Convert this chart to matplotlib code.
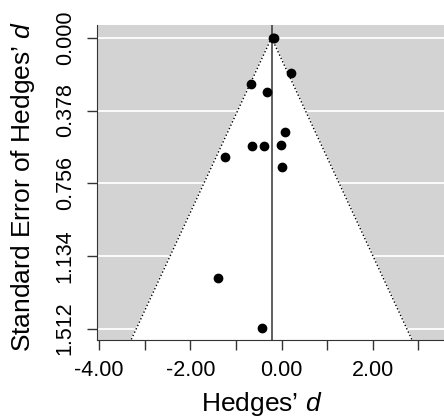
import numpy as np
import matplotlib.pyplot as plt

plt.rcParams['font.family'] = ['Liberation Sans', 'DejaVu Sans']
plt.rcParams['mathtext.fontset'] = 'custom'
plt.rcParams['mathtext.it'] = 'Liberation Sans:italic'
plt.rcParams['mathtext.rm'] = 'Liberation Sans'

# study effects (Hedges' d) and standard errors
effect = [-0.19, -0.17, 0.21, -0.68, -0.31, 0.07, -0.65, -0.39, -0.02, -1.23, 0.01, -1.39, -0.43]
se = [0.000, 0.003, 0.182, 0.238, 0.281, 0.488, 0.562, 0.562, 0.556, 0.618, 0.674, 1.248, 1.510]
pooled = -0.22

y_ticks = [0.000, 0.378, 0.756, 1.134, 1.512]
x_ticks = [-4, -3, -2, -1, 0, 1, 2, 3]
x_labels = ['-4.00', '', '-2.00', '', '0.00', '', '2.00', '']

fig = plt.figure(figsize=(4.44, 4.18), dpi=100)
ax = fig.add_axes([0.219, 0.187, 0.781, 0.753])

xlim = (-4.04, 3.56)
ylim = (1.57, -0.066)
ax.set_xlim(xlim)
ax.set_ylim(ylim)
ax.set_facecolor('#d3d3d3')

for t in y_ticks:
    ax.axhline(t, color='white', lw=1.3, zorder=1)

# pseudo 95% confidence funnel
se_edge = np.array([0, ylim[0]])
left = pooled - 1.96 * se_edge
right = pooled + 1.96 * se_edge
ax.fill([pooled, left[1], right[1]], [0, ylim[0], ylim[0]], color='white', zorder=2)
ax.plot([pooled, left[1]], [0, ylim[0]], ls=':', color='black', lw=1, zorder=3)
ax.plot([pooled, right[1]], [0, ylim[0]], ls=':', color='black', lw=1, zorder=3)
ax.axvline(pooled, color='#333333', lw=1.1, zorder=3)

ax.plot(effect, se, 'o', color='black', ms=6, zorder=4)

for s in ['top', 'right']:
    ax.spines[s].set_visible(False)
for s in ['left', 'bottom']:
    ax.spines[s].set_color('#333333')

ax.set_xticks(x_ticks)
ax.set_xticklabels(x_labels, fontsize=15.5)
ax.set_yticks(y_ticks)
ax.set_yticklabels(['%.3f' % v for v in y_ticks], fontsize=15.5, rotation=90, va='center')
ax.tick_params(direction='out', length=7.5, width=1, color='#333333')
ax.tick_params(axis='x', pad=7)
ax.tick_params(axis='y', pad=8)

fig.text(262 / 444, 7 / 418, "Hedges\u2019 $\\it{d}$", fontsize=19,
         ha='center', va='baseline')
fig.text(30 / 444, 0.554, "Standard Error of Hedges\u2019 $\\it{d}$", fontsize=19,
         rotation=90, rotation_mode='anchor', ha='center', va='baseline')

fig.savefig('out.png', dpi=100)
